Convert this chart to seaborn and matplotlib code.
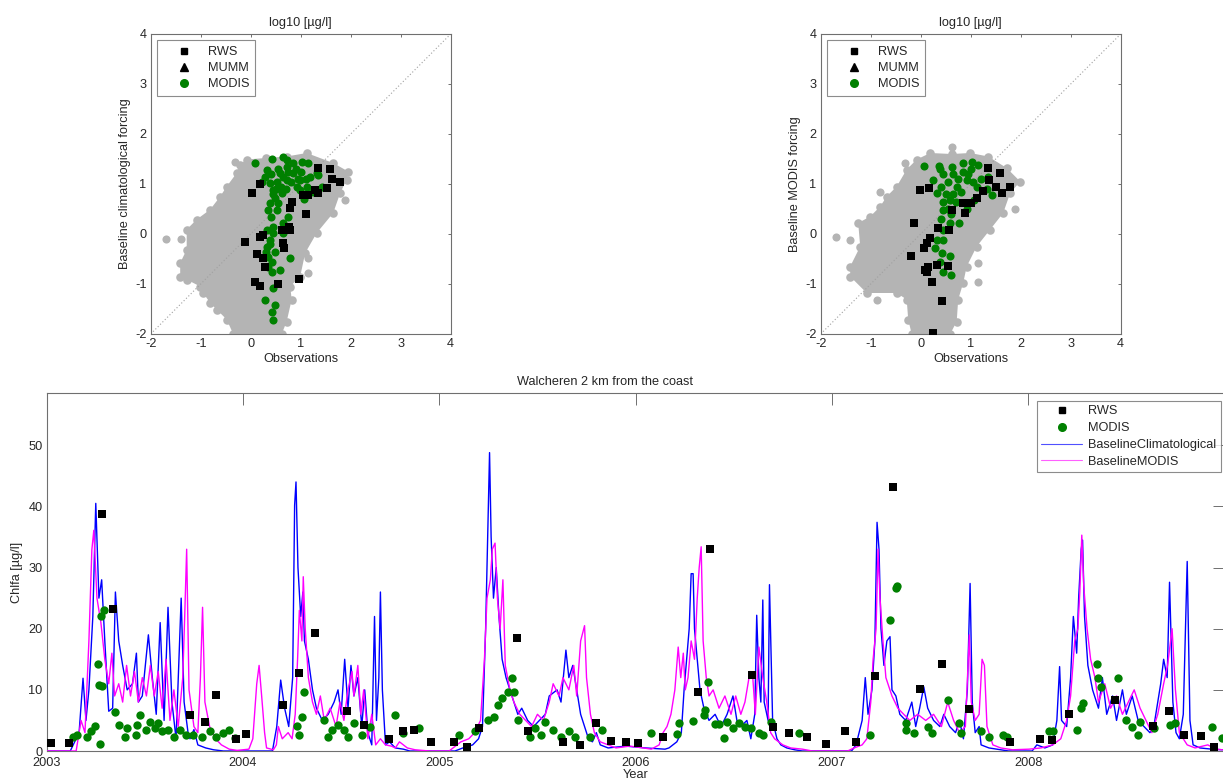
import numpy as np
import pandas as pd
import matplotlib
matplotlib.use("Agg")
import matplotlib.pyplot as plt
import seaborn as sns
from matplotlib.lines import Line2D

# ---------------- scatter panels (log10 ug/l) ----------------
# grey cloud outline of all model/obs pairs, panel 1 (climatological forcing)
cloud_clim = [(-0.21, 1.39), (-0.08, 1.49), (0.30, 1.52), (0.72, 1.55), (1.12, 1.62), (1.65, 1.42),
              (1.95, 1.25), (1.92, 1.09), (1.79, 0.82), (1.65, 0.42), (1.32, 0.02), (1.09, -0.38),
              (0.99, -0.85), (0.79, -1.05), (0.82, -1.31), (0.72, -1.75), (0.62, -2.0), (-0.35, -2.0),
              (-0.48, -1.71), (-0.68, -1.51), (-0.81, -1.38), (-0.95, -1.18), (-1.01, -1.05),
              (-1.28, -0.91), (-1.41, -0.85), (-1.41, -0.58), (-1.28, -0.31), (-1.28, 0.09),
              (-1.08, 0.29), (-0.81, 0.49), (-0.61, 0.75), (-0.48, 0.95), (-0.28, 1.22)]
grey_extra_clim = [(-0.31, 1.44), (1.89, 0.69), (1.15, -0.48), (1.15, -0.78), (-1.7, -0.1), (-1.4, -0.1)]

rws_clim = [(0.02, 0.82), (0.19, 1.01), (1.35, 1.33), (1.59, 1.30), (1.63, 1.11), (1.79, 1.05),
            (1.52, 0.93), (1.35, 0.82), (1.29, 0.89), (1.15, 0.79), (1.05, 0.79), (0.79, 0.52),
            (0.82, 0.65), (1.10, 0.40), (-0.11, -0.16), (0.19, -0.06), (0.25, -0.02), (0.62, 0.09),
            (0.79, 0.09), (0.77, 0.15), (0.65, -0.18), (0.67, -0.28), (0.12, -0.39), (0.24, -0.48),
            (0.29, -0.65), (0.09, -0.95), (0.19, -1.03), (0.55, -0.99), (0.97, -0.89)]

modis_clim = [(0.09, 1.42), (0.42, 1.50), (0.64, 1.55), (0.72, 1.49), (0.85, 1.42), (1.02, 1.45),
              (1.15, 1.42), (1.32, 1.22), (1.42, 0.95), (1.07, 0.70), (0.32, 1.29), (0.29, 1.15),
              (0.39, 1.02), (0.45, 0.89), (0.59, 1.22), (0.72, 1.09), (0.85, 1.22), (0.99, 1.09),
              (1.12, 0.95), (0.92, 0.95), (0.62, 0.82), (0.49, 0.72), (0.35, 0.49), (0.52, 0.49),
              (0.75, 0.35), (0.65, 0.22), (0.32, 0.09), (0.45, 0.02), (0.65, 0.02), (0.39, -0.11),
              (0.32, -0.25), (0.49, -0.35), (0.35, -0.45), (0.79, -0.48), (0.35, -0.65), (0.42, -0.75),
              (0.59, -0.71), (0.45, -1.08), (0.29, -1.31), (0.49, -1.41), (0.42, -1.55), (0.45, -1.71),
              (0.22, 1.05), (0.52, 1.05), (0.72, 1.35), (1.19, 1.15), (1.35, 1.19), (1.25, 0.85),
              (0.99, 0.89), (0.55, 1.30), (0.40, 1.20), (0.60, 0.95), (0.70, 0.90), (0.50, 0.90),
              (0.80, 1.05), (0.45, 0.80), (0.38, 0.62), (0.55, 0.62), (0.65, 1.15), (0.75, 1.25),
              (0.90, 1.30), (1.00, 1.25), (0.95, 1.10), (1.10, 1.10), (0.40, 0.35), (0.45, 0.15),
              (0.38, -0.20), (0.42, -0.55), (0.30, -0.35)]

# panel 2 (MODIS forcing)
cloud_modis = [(-0.08, 1.49), (0.19, 1.62), (0.62, 1.60), (0.99, 1.62), (1.35, 1.55), (1.72, 1.32),
               (1.99, 1.05), (1.79, 0.82), (1.65, 0.42), (1.39, 0.09), (1.12, -0.25), (0.92, -0.65),
               (0.85, -0.98), (0.75, -1.31), (0.72, -1.75), (0.59, -2.0), (-0.18, -2.0), (-0.25, -1.71),
               (-0.28, -1.31), (-0.48, -1.18), (-1.08, -1.18), (-1.41, -0.85), (-1.41, -0.65),
               (-1.21, -0.25), (-1.25, 0.22), (-1.01, 0.35), (-0.81, 0.55), (-0.68, 0.75),
               (-0.48, 0.95), (-0.28, 1.29)]
grey_extra_modis = [(-0.31, 1.42), (0.62, 1.75), (1.89, 0.50), (1.15, -0.58), (1.15, -0.95),
                    (-0.88, -1.31), (-1.70, -0.06), (-1.41, -0.11), (-0.81, 0.85)]

rws_modis = [(-0.01, 0.88), (0.17, 0.92), (-0.13, 0.23), (-0.20, -0.43), (0.07, -0.28), (0.12, -0.18),
             (0.19, -0.08), (0.35, 0.12), (0.57, 0.09), (0.62, 0.49), (0.89, 0.42), (1.25, 0.87),
             (1.35, 1.32), (1.37, 1.09), (1.59, 1.22), (1.51, 0.95), (1.63, 0.83), (1.79, 0.94),
             (1.01, 0.62), (1.12, 0.72), (0.85, 0.63), (0.09, -0.71), (0.15, -0.65), (0.32, -0.61),
             (0.54, -0.63), (0.22, -0.95), (0.43, -1.34), (0.25, -1.98), (0.12, -0.75)]

modis_modis = [(0.07, 1.37), (0.37, 1.37), (0.62, 1.35), (0.85, 1.42), (1.02, 1.45), (1.15, 1.39),
               (1.35, 1.15), (1.32, 0.90), (1.42, 0.79), (1.07, 0.69), (0.92, 0.51), (0.77, 0.22),
               (0.59, 0.22), (0.44, 0.09), (0.32, -0.11), (0.45, -0.11), (0.29, -0.28), (0.42, -0.38),
               (0.59, -0.43), (0.39, -0.55), (0.45, -0.75), (0.61, -0.81), (0.25, 1.09), (0.32, 0.82),
               (0.45, 0.49), (0.59, 0.69), (0.72, 0.95), (0.92, 1.09), (1.12, 0.95), (0.45, 1.20),
               (0.55, 1.05), (0.65, 1.20), (0.75, 1.10), (0.85, 1.25), (0.95, 1.20), (1.05, 1.05),
               (0.40, 0.95), (0.50, 0.80), (0.65, 0.80), (0.80, 0.85), (0.70, 0.65), (0.45, 0.65),
               (0.55, 0.50), (0.40, 0.30), (0.60, 0.40), (1.00, 1.30), (1.20, 1.10), (0.38, 1.30)]

mumm_obs = []   # MUMM in legend only, no points at this station

# ---------------- time series (Walcheren 2 km) ----------------
baseline_clim = [
    (2003.00, 0), (2003.12, 0), (2003.135, 1), (2003.165, 3), (2003.185, 11.9), (2003.20, 5),
    (2003.215, 10), (2003.235, 22), (2003.25, 40.5), (2003.266, 25), (2003.28, 28), (2003.296, 18),
    (2003.316, 6.5), (2003.336, 7), (2003.35, 26), (2003.367, 18), (2003.387, 14), (2003.41, 10),
    (2003.437, 11), (2003.457, 16), (2003.467, 8), (2003.487, 9), (2003.518, 19), (2003.538, 12),
    (2003.558, 6), (2003.578, 21), (2003.598, 5), (2003.618, 23.5), (2003.638, 8), (2003.659, 2),
    (2003.685, 25), (2003.70, 8), (2003.72, 3), (2003.73, 2), (2003.75, 3.5), (2003.77, 1),
    (2003.81, 0.5), (2003.85, 0.2), (2003.90, 0), (2004.15, 0), (2004.172, 4), (2004.192, 11.6),
    (2004.212, 7), (2004.233, 4), (2004.253, 12), (2004.263, 40.2), (2004.27, 44), (2004.28, 30),
    (2004.294, 22), (2004.305, 26), (2004.313, 18), (2004.333, 15), (2004.354, 10), (2004.374, 7),
    (2004.404, 5), (2004.434, 6), (2004.464, 8), (2004.484, 10), (2004.50, 6), (2004.518, 15),
    (2004.535, 7), (2004.55, 14), (2004.565, 9), (2004.585, 12), (2004.605, 4), (2004.62, 10),
    (2004.636, 3), (2004.656, 1), (2004.67, 22), (2004.68, 5), (2004.692, 12), (2004.70, 26),
    (2004.71, 10), (2004.726, 1), (2004.746, 1.5), (2004.776, 0.5), (2004.817, 0.3), (2004.85, 0),
    (2005.08, 0), (2005.12, 0.5), (2005.17, 1), (2005.20, 2), (2005.22, 4), (2005.236, 20),
    (2005.25, 40), (2005.256, 48.8), (2005.264, 35), (2005.276, 25), (2005.29, 30), (2005.304, 22),
    (2005.32, 15), (2005.34, 12), (2005.36, 10), (2005.38, 8), (2005.40, 6), (2005.42, 7),
    (2005.45, 5), (2005.48, 4), (2005.51, 5), (2005.54, 6), (2005.56, 9), (2005.60, 10),
    (2005.62, 8), (2005.645, 16.5), (2005.66, 12), (2005.68, 14), (2005.70, 10), (2005.72, 6),
    (2005.74, 4), (2005.76, 2), (2005.78, 1.5), (2005.80, 3), (2005.82, 1), (2005.86, 0.5),
    (2005.95, 0.8), (2006.05, 0.5), (2006.15, 0.3), (2006.17, 0.5), (2006.21, 1.5), (2006.233, 3),
    (2006.247, 10), (2006.26, 15), (2006.273, 20), (2006.283, 29), (2006.293, 29), (2006.30, 20),
    (2006.314, 15), (2006.328, 10), (2006.348, 7), (2006.374, 5), (2006.405, 6), (2006.435, 4),
    (2006.466, 6), (2006.496, 9), (2006.516, 5), (2006.536, 4), (2006.567, 5), (2006.587, 2),
    (2006.607, 6), (2006.617, 22.2), (2006.628, 12), (2006.638, 8), (2006.648, 24.7), (2006.655, 8),
    (2006.675, 5), (2006.682, 27.2), (2006.698, 5), (2006.72, 2), (2006.74, 1), (2006.77, 0.5),
    (2006.81, 0.2), (2006.85, 0), (2007.10, 0), (2007.123, 1), (2007.154, 5), (2007.17, 12),
    (2007.184, 6), (2007.204, 10), (2007.219, 18), (2007.23, 37.4), (2007.24, 33), (2007.25, 20),
    (2007.265, 14), (2007.28, 18), (2007.296, 18.7), (2007.306, 10), (2007.326, 9), (2007.346, 6),
    (2007.376, 5), (2007.407, 8), (2007.427, 4), (2007.447, 7), (2007.468, 10.5), (2007.488, 7),
    (2007.518, 5), (2007.55, 4), (2007.57, 6), (2007.60, 4), (2007.63, 3), (2007.65, 5),
    (2007.67, 2), (2007.69, 10), (2007.704, 27.4), (2007.715, 8), (2007.73, 3), (2007.75, 4),
    (2007.76, 1), (2007.80, 0.5), (2007.84, 0.3), (2007.90, 0), (2008.02, 0), (2008.044, 1),
    (2008.085, 0.5), (2008.125, 1), (2008.146, 5), (2008.16, 13.8), (2008.17, 5), (2008.196, 4),
    (2008.216, 12), (2008.23, 22), (2008.247, 16), (2008.257, 25), (2008.27, 33), (2008.277, 34.5),
    (2008.287, 22), (2008.304, 14), (2008.328, 10), (2008.358, 7), (2008.378, 12), (2008.40, 6),
    (2008.43, 9), (2008.45, 5), (2008.48, 10), (2008.50, 6), (2008.53, 9), (2008.56, 5),
    (2008.59, 4), (2008.62, 3), (2008.64, 4), (2008.675, 11), (2008.69, 15), (2008.708, 12),
    (2008.72, 27.6), (2008.737, 8), (2008.753, 3), (2008.77, 2), (2008.79, 6), (2008.81, 31),
    (2008.824, 5), (2008.84, 1), (2008.875, 0.5), (2008.935, 0.3), (2008.99, 0.2)]

baseline_modis = [
    (2003.00, 0), (2003.15, 0), (2003.155, 1), (2003.175, 5), (2003.195, 3), (2003.215, 18),
    (2003.23, 32.9), (2003.24, 36.1), (2003.256, 25), (2003.276, 21), (2003.296, 15), (2003.316, 11),
    (2003.332, 16), (2003.346, 9), (2003.367, 11), (2003.387, 8), (2003.407, 14), (2003.427, 9),
    (2003.447, 13), (2003.467, 8), (2003.487, 12), (2003.508, 9), (2003.528, 14), (2003.548, 9),
    (2003.568, 13), (2003.588, 7), (2003.608, 15), (2003.628, 5), (2003.648, 10), (2003.67, 4),
    (2003.693, 12), (2003.703, 22), (2003.713, 33), (2003.725, 10), (2003.75, 4), (2003.77, 3),
    (2003.783, 12), (2003.794, 23.5), (2003.806, 8), (2003.83, 4), (2003.86, 2), (2003.89, 1),
    (2003.93, 0.3), (2003.97, 0.1), (2004.03, 0.3), (2004.05, 2), (2004.07, 11), (2004.082, 14),
    (2004.095, 9), (2004.11, 3), (2004.12, 0.5), (2004.155, 0.2), (2004.17, 1), (2004.18, 4),
    (2004.20, 2), (2004.23, 3), (2004.25, 2), (2004.266, 6), (2004.278, 15), (2004.287, 23),
    (2004.30, 18), (2004.307, 28.5), (2004.317, 20), (2004.333, 12), (2004.354, 8), (2004.374, 6),
    (2004.394, 9), (2004.414, 5), (2004.444, 7), (2004.474, 4), (2004.494, 8), (2004.514, 5),
    (2004.535, 10), (2004.555, 13), (2004.565, 9), (2004.585, 14), (2004.60, 6), (2004.615, 10),
    (2004.636, 2), (2004.656, 6), (2004.676, 1), (2004.70, 2), (2004.726, 1), (2004.756, 0.8),
    (2004.776, 0.5), (2004.797, 1.5), (2004.837, 0.5), (2004.877, 0.2), (2004.95, 0), (2005.05, 0),
    (2005.07, 0.5), (2005.11, 1.5), (2005.15, 2), (2005.18, 3), (2005.21, 5), (2005.23, 15),
    (2005.243, 25), (2005.26, 28), (2005.27, 33), (2005.284, 34), (2005.296, 25), (2005.31, 20),
    (2005.324, 28), (2005.336, 14), (2005.36, 10), (2005.38, 8), (2005.41, 6), (2005.44, 5),
    (2005.47, 4), (2005.50, 6), (2005.53, 5), (2005.56, 8), (2005.58, 11), (2005.61, 9),
    (2005.63, 12), (2005.66, 10), (2005.685, 14), (2005.70, 9), (2005.72, 18), (2005.74, 20.5),
    (2005.75, 12), (2005.77, 6), (2005.79, 3), (2005.82, 1.5), (2005.86, 1), (2005.90, 0.5),
    (2005.97, 0.8), (2006.04, 0.5), (2006.08, 0.3), (2006.12, 1), (2006.14, 3), (2006.16, 4),
    (2006.18, 6), (2006.20, 10), (2006.217, 17), (2006.23, 12), (2006.243, 16), (2006.253, 10),
    (2006.267, 12), (2006.283, 18), (2006.30, 15), (2006.314, 25), (2006.324, 30), (2006.334, 33.4),
    (2006.344, 18), (2006.36, 12), (2006.374, 9), (2006.395, 10), (2006.425, 7), (2006.455, 9),
    (2006.486, 6), (2006.51, 9), (2006.536, 6), (2006.557, 8), (2006.583, 13), (2006.597, 12),
    (2006.61, 6), (2006.628, 17), (2006.648, 12), (2006.668, 8), (2006.688, 3), (2006.708, 2),
    (2006.75, 1), (2006.79, 0.5), (2006.85, 0.3), (2006.90, 0), (2007.08, 0), (2007.113, 0.5),
    (2007.154, 1), (2007.178, 2), (2007.198, 8), (2007.21, 15), (2007.225, 20), (2007.235, 33),
    (2007.245, 25), (2007.26, 18), (2007.275, 12), (2007.306, 9), (2007.336, 7), (2007.366, 6),
    (2007.397, 5), (2007.437, 6), (2007.478, 5), (2007.518, 6), (2007.558, 4), (2007.59, 8),
    (2007.62, 5), (2007.65, 3), (2007.68, 4), (2007.70, 19), (2007.71, 8), (2007.73, 5),
    (2007.75, 6), (2007.765, 15), (2007.777, 14), (2007.79, 4), (2007.82, 1), (2007.86, 0.5),
    (2007.92, 0.2), (2008.004, 0.3), (2008.065, 0.5), (2008.125, 1), (2008.166, 2), (2008.196, 5),
    (2008.216, 9), (2008.237, 18), (2008.253, 20), (2008.263, 26), (2008.273, 35.3), (2008.283, 27),
    (2008.30, 20), (2008.318, 15), (2008.34, 12), (2008.358, 8), (2008.39, 11), (2008.42, 7),
    (2008.45, 9), (2008.48, 6), (2008.51, 8), (2008.54, 10), (2008.57, 7), (2008.60, 5),
    (2008.63, 3), (2008.66, 6), (2008.69, 11), (2008.71, 14), (2008.733, 20), (2008.75, 10),
    (2008.77, 3), (2008.79, 2), (2008.81, 1), (2008.85, 0.5), (2008.915, 1), (2008.955, 0.3),
    (2008.99, 0.2)]

rws_obs = [
    (2003.02, 1.25), (2003.115, 1.25), (2003.284, 38.8), (2003.34, 23.2), (2003.86, 9.2),
    (2003.73, 5.9), (2003.806, 4.7), (2003.965, 1.9), (2004.015, 2.7), (2004.204, 7.5),
    (2004.287, 12.8), (2004.366, 19.3), (2004.53, 6.6), (2004.615, 4.2), (2004.746, 1.9),
    (2004.817, 3.2), (2004.873, 3.4), (2004.958, 1.4), (2005.075, 1.5), (2005.14, 0.7),
    (2005.20, 3.7), (2005.395, 18.4), (2005.45, 3.2), (2005.63, 1.4), (2005.715, 1.0),
    (2005.80, 4.6), (2005.873, 1.6), (2005.95, 1.4), (2006.012, 1.25), (2006.14, 2.3),
    (2006.32, 9.7), (2006.377, 33.1), (2006.593, 12.4), (2006.70, 4.0), (2006.78, 2.9),
    (2006.875, 2.3), (2006.968, 1.1), (2007.067, 3.3), (2007.125, 1.5), (2007.22, 12.2),
    (2007.31, 43.1), (2007.45, 10.1), (2007.563, 14.3), (2007.70, 6.8), (2007.907, 1.5),
    (2008.06, 1.9), (2008.12, 1.8), (2008.21, 6.0), (2008.443, 8.3), (2008.717, 6.5),
    (2008.638, 4.1), (2008.794, 2.6), (2008.88, 2.5), (2008.947, 0.7)]

modis_obs = [
    (2003.135, 2.3), (2003.155, 2.6), (2003.205, 2.3), (2003.225, 3.2), (2003.246, 4.1),
    (2003.262, 14.3), (2003.266, 10.8), (2003.282, 10.6), (2003.29, 23.0), (2003.278, 22.1),
    (2003.272, 1.1), (2003.346, 6.4), (2003.367, 4.3), (2003.397, 2.3), (2003.407, 3.7),
    (2003.457, 2.6), (2003.477, 5.9), (2003.462, 4.3), (2003.508, 3.4), (2003.528, 4.8),
    (2003.552, 3.7), (2003.568, 4.5), (2003.588, 3.2), (2003.618, 3.4), (2003.648, 2.3),
    (2003.679, 3.4), (2003.71, 2.6), (2003.745, 2.6), (2003.79, 2.3), (2003.83, 3.2),
    (2003.86, 2.3), (2003.90, 2.9), (2003.93, 3.4), (2003.957, 2.1),
    (2004.283, 2.6), (2004.277, 4.1), (2004.303, 5.6), (2004.31, 9.7), (2004.414, 5.1),
    (2004.434, 2.3), (2004.454, 3.4), (2004.484, 4.3), (2004.515, 3.4), (2004.535, 2.3),
    (2004.565, 4.5), (2004.605, 2.6), (2004.646, 4.0), (2004.776, 5.9), (2004.817, 2.9),
    (2004.897, 3.7),
    (2005.10, 2.6), (2005.18, 3.2), (2005.25, 5.1), (2005.28, 5.6), (2005.30, 7.5),
    (2005.32, 8.6), (2005.35, 9.7), (2005.37, 11.9), (2005.38, 9.7), (2005.40, 5.1),
    (2005.46, 2.3), (2005.49, 3.7), (2005.52, 2.6), (2005.54, 4.8), (2005.58, 3.4),
    (2005.62, 2.3), (2005.66, 3.2), (2005.69, 2.3), (2005.77, 2.3), (2005.83, 3.4),
    (2006.077, 3.0), (2006.21, 2.8), (2006.22, 4.5), (2006.29, 4.9), (2006.35, 5.9),
    (2006.37, 11.3), (2006.354, 6.7), (2006.405, 4.4), (2006.425, 4.4), (2006.45, 2.1),
    (2006.466, 4.8), (2006.496, 3.7), (2006.526, 4.5), (2006.557, 4.0), (2006.587, 3.7),
    (2006.628, 2.9), (2006.648, 2.6), (2006.688, 4.8), (2006.83, 2.9),
    (2007.194, 2.6), (2007.296, 21.4), (2007.326, 26.6), (2007.332, 27.0), (2007.376, 3.4),
    (2007.417, 2.9), (2007.38, 4.5), (2007.488, 4.0), (2007.508, 2.9), (2007.59, 8.3),
    (2007.65, 4.5), (2007.66, 2.9), (2007.76, 3.2), (2007.80, 2.3), (2007.87, 2.6),
    (2007.89, 2.3),
    (2008.105, 3.2), (2008.125, 3.3), (2008.247, 3.4), (2008.267, 7.0), (2008.277, 7.8),
    (2008.348, 14.3), (2008.358, 11.9), (2008.37, 10.5), (2008.46, 11.9), (2008.50, 5.1),
    (2008.53, 4.0), (2008.56, 2.6), (2008.57, 4.8), (2008.64, 3.7), (2008.72, 4.3),
    (2008.75, 4.5), (2008.935, 4.0), (2008.985, 2.1)]

year_ticks = [2003, 2004, 2005, 2006, 2007, 2008]

# ---------------- style ----------------
GREY = "#b4b4b4"
GREEN = "#008000"
SPINE = "#6f6f6f"
TEXT = "#262626"
FS = 9.2

sns.set_theme(style="white")
plt.rcParams["font.family"] = ["Liberation Sans", "DejaVu Sans"]
plt.rcParams["axes.unicode_minus"] = False
plt.rcParams["text.color"] = TEXT
plt.rcParams["axes.labelcolor"] = TEXT


def xy(pairs):
    if len(pairs) == 0:
        return np.array([]), np.array([])
    a = np.asarray(pairs, dtype=float)
    return a[:, 0], a[:, 1]


def style_axes(ax, ticklen, xpad=3):
    for sp in ax.spines.values():
        sp.set_color(SPINE)
        sp.set_linewidth(0.8)
    ax.tick_params(direction="in", length=ticklen, width=0.7, color=SPINE,
                   top=True, right=True, labelsize=FS, labelcolor=TEXT, pad=3)
    ax.tick_params(axis="x", pad=xpad)


def scatter_panel(ax, cloud, grey_extra, rws, modis, ylabel):
    cx, cy = xy(cloud)
    ax.fill(cx, cy, color=GREY, lw=0, zorder=1)
    sns.scatterplot(x=cx, y=cy, ax=ax, color=GREY, s=38, linewidth=0, zorder=1)
    gx, gy = xy(grey_extra)
    sns.scatterplot(x=gx, y=gy, ax=ax, color=GREY, s=34, linewidth=0, zorder=1)
    ax.plot([-2, 4], [-2, 4], ls=(0, (1, 2)), color="#a0a0a0", lw=0.8, zorder=2)
    mx, my = xy(modis)
    sns.scatterplot(x=mx, y=my, ax=ax, color=GREEN, marker="o", s=34, linewidth=0, zorder=3)
    rx, ry = xy(rws)
    sns.scatterplot(x=rx, y=ry, ax=ax, color="black", marker="s", s=26, linewidth=0, zorder=4)
    ux, uy = xy(mumm_obs)
    ax.plot(ux, uy, "^k", ls="")
    ax.set_xlim(-2, 4)
    ax.set_ylim(-2, 4)
    ax.set_xticks(range(-2, 5))
    ax.set_yticks(range(-2, 5))
    ax.set_title("log10 [µg/l]", fontsize=FS, pad=6, color=TEXT)
    ax.set_xlabel("Observations", fontsize=FS, labelpad=2)
    ax.set_ylabel(ylabel, fontsize=FS, labelpad=3)
    style_axes(ax, 2.4)
    handles = [Line2D([], [], marker="s", color="black", ls="", markersize=5),
               Line2D([], [], marker="^", color="black", ls="", markersize=5.5),
               Line2D([], [], marker="o", color=GREEN, ls="", markersize=5.5)]
    leg = ax.legend(handles, ["RWS", "MUMM", "MODIS"], loc="upper left",
                    bbox_to_anchor=(0.02, 0.979), fontsize=FS, frameon=True, fancybox=False,
                    borderpad=0.45, labelspacing=0.33, handlelength=3.4, handletextpad=0.15,
                    borderaxespad=0)
    leg.get_frame().set_edgecolor(SPINE)
    leg.get_frame().set_linewidth(0.8)


fig = plt.figure(figsize=(12.23, 7.82), dpi=100)
ax1 = fig.add_axes([150.7 / 1223, 1 - 334 / 782, 300 / 1223, 300 / 782])
ax2 = fig.add_axes([820.7 / 1223, 1 - 334 / 782, 300 / 1223, 300 / 782])
ax3 = fig.add_axes([46.7 / 1223, 1 - 751 / 782, 1177.8 / 1223, 357.7 / 782])

scatter_panel(ax1, cloud_clim, grey_extra_clim, rws_clim, modis_clim, "Baseline climatological forcing")
scatter_panel(ax2, cloud_modis, grey_extra_modis, rws_modis, modis_modis, "Baseline MODIS forcing")

# ---------------- time series panel ----------------
bx, by = xy(baseline_clim)
sns.lineplot(x=bx, y=by, ax=ax3, color="#0000ff", lw=1.0, estimator=None, sort=False, zorder=2)
px, py = xy(baseline_modis)
sns.lineplot(x=px, y=py, ax=ax3, color="#ff00ff", lw=1.0, estimator=None, sort=False, zorder=3)
gx, gy = xy(modis_obs)
sns.scatterplot(x=gx, y=gy, ax=ax3, color=GREEN, marker="o", s=36, linewidth=0, zorder=4)
rx, ry = xy(rws_obs)
sns.scatterplot(x=rx, y=ry, ax=ax3, color="black", marker="s", s=26, linewidth=0, zorder=5)

ax3.set_xlim(2003, 2009)
ax3.set_ylim(0, 58.5)
ax3.set_xticks(year_ticks)
ax3.set_xticklabels([str(y) for y in year_ticks])
ax3.set_yticks(range(0, 51, 10))
style_axes(ax3, 8.4, xpad=4.5)
ax3.set_xlabel("Year", fontsize=FS, labelpad=0)
ax3.set_ylabel("Chlfa [µg/l]", fontsize=FS, labelpad=4)
ax3.set_title("Walcheren 2 km from the coast", fontsize=FS, pad=6, color=TEXT, x=0.474)

handles = [Line2D([], [], marker="s", color="black", ls="", markersize=5),
           Line2D([], [], marker="o", color=GREEN, ls="", markersize=5.5),
           Line2D([], [], color="#5050ff", lw=0.8),
           Line2D([], [], color="#ff60ff", lw=0.8)]
leg = ax3.legend(handles, ["RWS", "MODIS", "BaselineClimatological", "BaselineMODIS"],
                 loc="upper right", bbox_to_anchor=(0.9967, 0.979), fontsize=FS, frameon=True,
                 fancybox=False, borderpad=0.35, labelspacing=0.38, handlelength=3.2,
                 handletextpad=0.45, borderaxespad=0)
leg.get_frame().set_edgecolor(SPINE)
leg.get_frame().set_linewidth(0.8)

fig.savefig("out.png", dpi=100)
